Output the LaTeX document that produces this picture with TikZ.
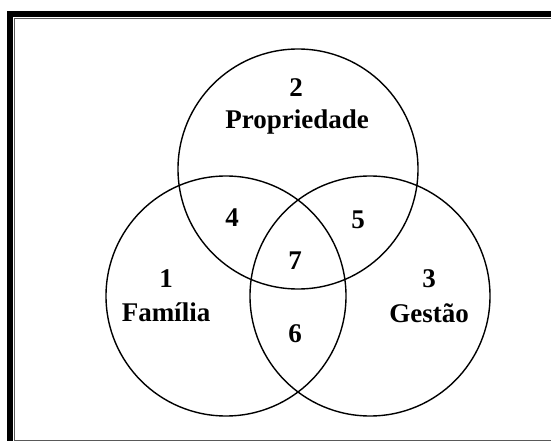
\documentclass[tikz,border=0pt]{standalone}
\usepackage{fontspec}
\setmainfont{Liberation Serif}
\usetikzlibrary{calc}

\begin{document}
\begin{tikzpicture}[x=1pt, y=-1pt, font=\fontsize{27}{31}\selectfont\bfseries]
      \useasboundingbox (0,0) rectangle (551,441);

      % frame
      \draw[line width=6pt, black] (10,441) -- (10,14) -- (551,14);
      \draw[line width=1.2pt, black!65] (14.8,441) -- (14.8,18.4) -- (551,18.4);
      \draw[line width=1.2pt, black!65] (14.8,440.2) -- (551,440.2);

      % sets
      \node[circle, draw, line width=1.4pt, inner sep=0pt, minimum size=240pt] (propriedade) at (298,169) {};
      \node[circle, draw, line width=1.4pt, inner sep=0pt, minimum size=240pt] (familia) at (226,296) {};
      \node[circle, draw, line width=1.4pt, inner sep=0pt, minimum size=240pt] (gestao) at (370,296) {};

      % labels
      \node (n2) at (296,88) {2};
      \node (t2) at (297,122) {Propriedade};
      \node (n1) at (166,279) {1};
      \node (t1) at (166,312) {Família};
      \node (n3) at (429,279) {3};
      \node (t3) at (429,313) {Gestão};
      \node (n4) at (232,218) {4};
      \node (n5) at (358,220) {5};
      \node (n7) at (295,261) {7};
      \node (n6) at (295,334) {6};
    \end{tikzpicture}
\end{document}
